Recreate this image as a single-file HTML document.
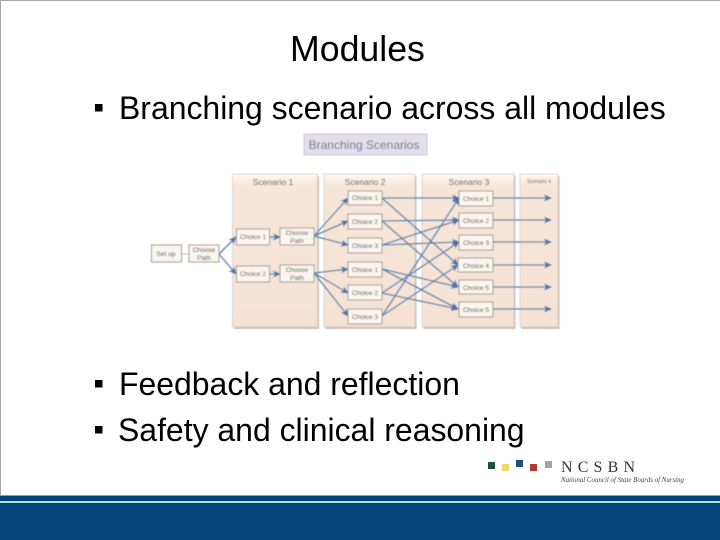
<!DOCTYPE html>
<html><head><meta charset="utf-8"><style>
html,body{margin:0;padding:0;background:#fff}
svg{display:block}
text{font-family:"Liberation Sans",sans-serif}
.b{fill:#fbf5ef;stroke:#a3978c;stroke-width:1}
.l{font-size:6.6px;fill:#444;text-anchor:middle}
.c{stroke:#5580ad;stroke-width:1.3;fill:none;marker-end:url(#a)}
.h{font-size:8.5px;fill:#555;text-anchor:middle}
</style></head><body>
<svg width="720" height="540" viewBox="0 0 720 540" xmlns="http://www.w3.org/2000/svg">
<defs>
<marker id="a" markerWidth="8" markerHeight="8" refX="7" refY="4" orient="auto" markerUnits="userSpaceOnUse"><path d="M0 .5L8 4L0 7.500L2 4Z" fill="#4a76a8"/></marker>
<linearGradient id="p" x1="0" y1="0" x2="0" y2="1"><stop offset="0" stop-color="#fff8f2"/><stop offset=".08" stop-color="#f6e5d8"/><stop offset="1" stop-color="#f5e2d4"/></linearGradient>
<filter id="s" x="-5%" y="-5%" width="110%" height="110%"><feGaussianBlur stdDeviation=".42"/></filter>
</defs>
<rect width="720" height="540" fill="#fff"/>
<rect width="720" height="1" fill="#a8a8a8"/>
<rect width="1" height="495" fill="#a8a8a8"/>

<text x="290" y="61" font-size="35.700">Modules</text>
<rect x="95" y="104" width="7.500" height="7.500" fill="#000"/>
<text x="119" y="119" font-size="31.950">Branching scenario across all modules</text>
<rect x="95" y="380" width="7.500" height="7.500" fill="#000"/>
<text x="119" y="395" font-size="31.950">Feedback and reflection</text>
<rect x="95" y="426" width="7.500" height="7.500" fill="#000"/>
<text x="118" y="441" font-size="31.950">Safety and clinical reasoning</text>

<g filter="url(#s)">
<rect x="304" y="134" width="123" height="21" fill="#e3deec" stroke="#c6bfd6" stroke-width=".8"/>
<text x="364" y="149" font-size="12" fill="#706d7c" text-anchor="middle">Branching Scenarios</text>

<g fill="#c9c0b8">
<rect x="234" y="176" width="85" height="153"/>
<rect x="325.500" y="176" width="91" height="153"/>
<rect x="423.500" y="176" width="92" height="153"/>
<rect x="521.500" y="176" width="38" height="153"/>
</g>
<g fill="url(#p)" stroke="#d8ccc2" stroke-width=".8">
<rect x="232.500" y="174" width="85" height="153"/>
<rect x="324" y="174" width="91" height="153"/>
<rect x="422" y="174" width="92" height="153"/>
<rect x="520" y="174" width="38" height="153"/>
</g>
<text class="h" x="273" y="185">Scenario 1</text>
<text class="h" x="365" y="185">Scenario 2</text>
<text class="h" x="469" y="185">Scenario 3</text>
<text x="539" y="183" font-size="5" fill="#555" text-anchor="middle">Scenario 4</text>

<path d="M182 254H188" stroke="#a9bdd4" stroke-width="1" fill="none"/>
<path class="c" d="M219 254L236 237"/>
<path class="c" d="M219 254L236 274"/>
<path class="c" d="M270 237H280"/>
<path class="c" d="M270 274H280"/>
<path class="c" d="M314 236L348 198"/>
<path class="c" d="M314 236L348 221"/>
<path class="c" d="M314 236L348 245"/>
<path class="c" d="M314 273L348 269"/>
<path class="c" d="M314 273L348 293"/>
<path class="c" d="M314 273L348 316"/>

<path class="c" d="M382 198H459"/>
<path class="c" d="M382 198L458 265"/>
<path class="c" d="M382 221L459 220"/>
<path class="c" d="M382 221L458 287"/>
<path class="c" d="M382 245L459 220"/>
<path class="c" d="M382 245L459 242"/>
<path class="c" d="M382 269L458 287"/>
<path class="c" d="M382 269L458 309"/>
<path class="c" d="M382 293L459 242"/>
<path class="c" d="M382 293L458 309"/>
<path class="c" d="M382 316L459 198"/>
<path class="c" d="M382 316L458 265"/>

<path class="c" d="M493 198H551"/>
<path class="c" d="M493 220H551"/>
<path class="c" d="M493 242H551"/>
<path class="c" d="M493 265H551"/>
<path class="c" d="M493 287H551"/>
<path class="c" d="M493 309H551"/>

<rect class="b" x="151.500" y="245" width="30" height="17"/><text class="l" x="166" y="256">Set up</text>
<rect class="b" x="189" y="245" width="30" height="17"/><text class="l" x="204" y="252">Choose</text><text class="l" x="204" y="260">Path</text>
<rect class="b" x="236.500" y="229" width="33" height="16"/><text class="l" x="253" y="239">Choice 1</text>
<rect class="b" x="236.500" y="266" width="33" height="16"/><text class="l" x="253" y="276">Choice 2</text>
<rect class="b" x="280" y="228" width="34" height="17"/><text class="l" x="297" y="235">Choose</text><text class="l" x="297" y="243">Path</text>
<rect class="b" x="280" y="265" width="34" height="17"/><text class="l" x="297" y="272">Choose</text><text class="l" x="297" y="280">Path</text>

<rect class="b" x="348" y="191" width="34" height="14"/><text class="l" x="365" y="200">Choice 1</text>
<rect class="b" x="348" y="214" width="34" height="15"/><text class="l" x="365" y="224">Choice 2</text>
<rect class="b" x="348" y="238" width="34" height="15"/><text class="l" x="365" y="248">Choice 3</text>
<rect class="b" x="348" y="262" width="34" height="15"/><text class="l" x="365" y="272">Choice 1</text>
<rect class="b" x="348" y="285" width="34" height="15"/><text class="l" x="365" y="295">Choice 2</text>
<rect class="b" x="348" y="309" width="34" height="15"/><text class="l" x="365" y="319">Choice 3</text>

<rect class="b" x="459" y="191" width="34" height="15"/><text class="l" x="476" y="201">Choice 1</text>
<rect class="b" x="459" y="213" width="34" height="15"/><text class="l" x="476" y="223">Choice 2</text>
<rect class="b" x="459" y="235" width="34" height="15"/><text class="l" x="476" y="245">Choice 3</text>
<rect class="b" x="458" y="258" width="35" height="14"/><text class="l" x="476" y="268">Choice 4</text>
<rect class="b" x="459" y="280" width="34" height="14"/><text class="l" x="476" y="290">Choice 5</text>
<rect class="b" x="459" y="302" width="34" height="15"/><text class="l" x="476" y="312">Choice 5</text>
</g>

<rect x="488" y="462" width="7" height="7" fill="#1f5234"/>
<rect x="502" y="464" width="7" height="7" fill="#f3d76b"/>
<rect x="516" y="460" width="7" height="7" fill="#1c4f80"/>
<rect x="530" y="464" width="7" height="7" fill="#ad3b2f"/>
<rect x="545" y="461" width="7" height="7" fill="#a8a29b"/>
<text x="561" y="472" font-size="16" fill="#333" textLength="74" style="font-family:'Liberation Serif',serif">NCSBN</text>
<text x="561" y="482" font-size="7.500" fill="#444" font-style="italic" textLength="123" lengthAdjust="spacingAndGlyphs" style="font-family:'Liberation Serif',serif">National Council of State Boards of Nursing</text>

<rect x="0" y="495" width="720" height="45" fill="#03437a"/>
<rect x="0" y="495" width="720" height="1" fill="#7fa5bf"/>
<rect x="0" y="501" width="720" height="2" fill="#b5dcec"/>
</svg>
</body></html>
